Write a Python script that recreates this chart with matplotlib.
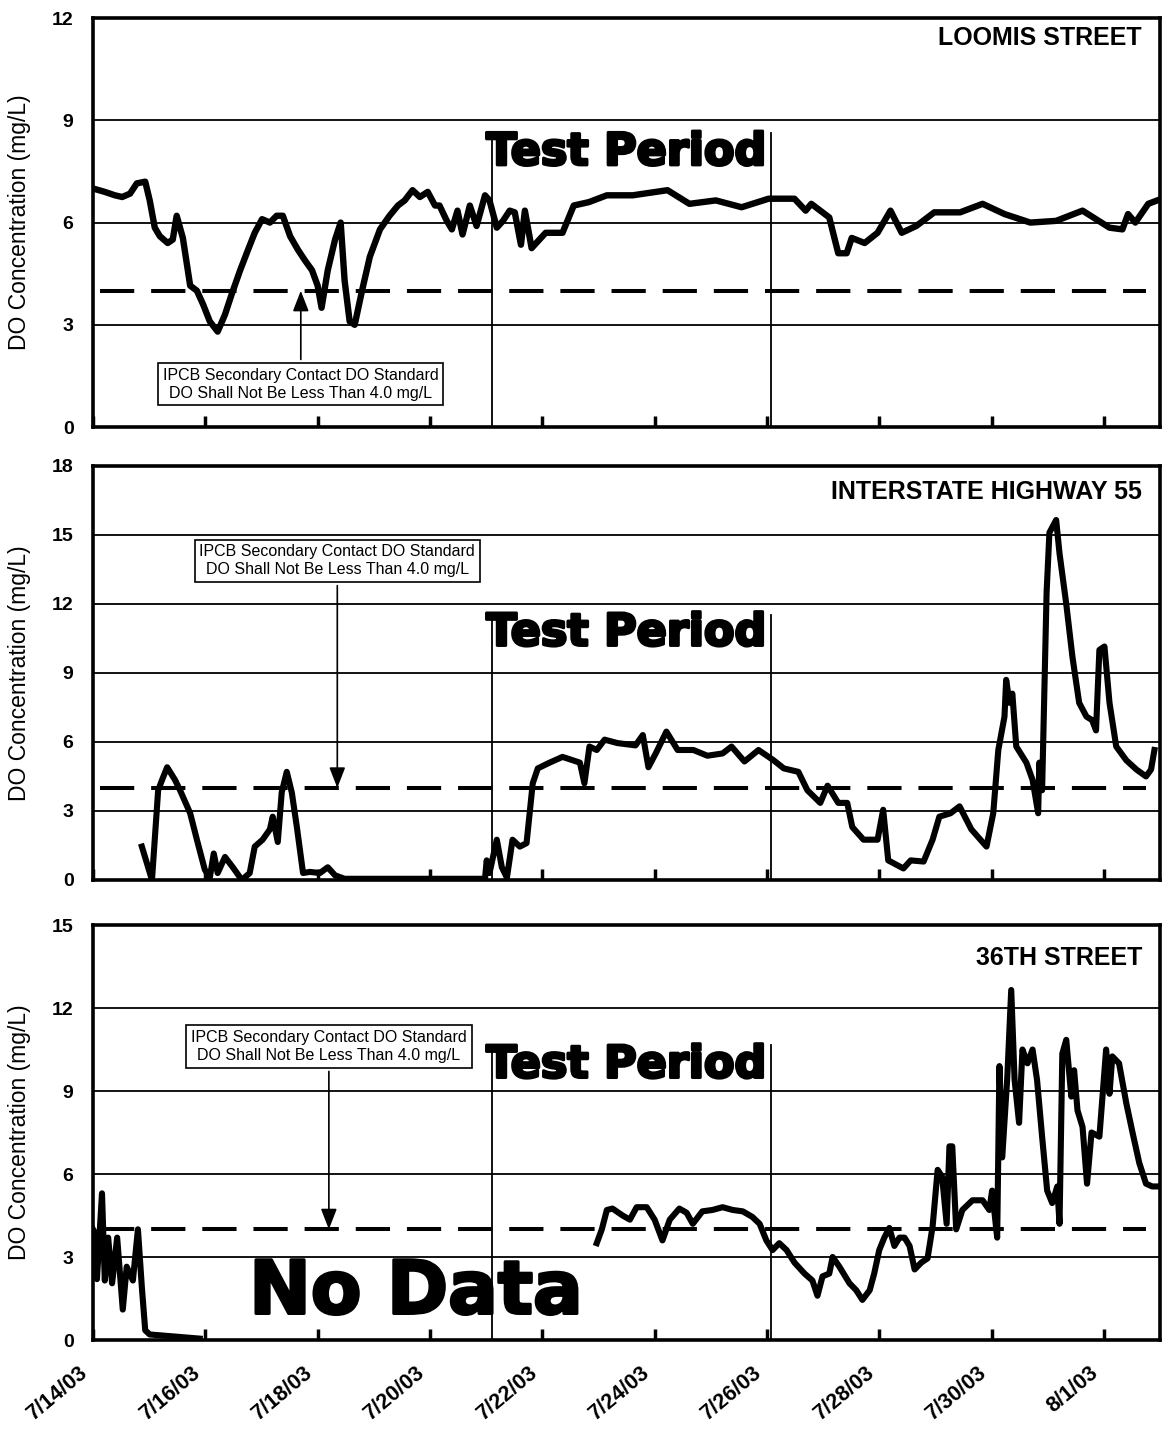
import pandas as pd
import matplotlib
matplotlib.use("Agg")
from matplotlib import pyplot as plt
from matplotlib import patheffects
from matplotlib.transforms import ScaledTranslation

# days since 7/14/03 00:00 and DO (mg/L)
loomis_day = [0.00, 0.21, 0.39, 0.52, 0.66, 0.78, 0.93, 1.01, 1.10, 1.19, 1.33, 1.42, 1.49, 1.60,
              1.73, 1.85, 1.96, 2.08, 2.22, 2.35, 2.47, 2.62, 2.76, 2.88, 3.01, 3.15, 3.27, 3.38,
              3.51, 3.65, 3.77, 3.90, 4.00, 4.07, 4.18, 4.31, 4.41, 4.48, 4.57, 4.66, 4.79, 4.93,
              5.11, 5.28, 5.43, 5.55, 5.69, 5.82, 5.96, 6.09, 6.17, 6.30, 6.39, 6.49, 6.58, 6.71,
              6.83, 6.98, 7.06, 7.19, 7.30, 7.42, 7.51, 7.62, 7.69, 7.81, 8.06, 8.36, 8.56, 8.83,
              9.15, 9.61, 10.23, 10.62, 11.09, 11.55, 12.03, 12.49, 12.69, 12.79, 13.11, 13.27,
              13.42, 13.51, 13.74, 13.97, 14.20, 14.40, 14.66, 14.98, 15.44, 15.84, 16.23, 16.69,
              17.15, 17.62, 18.10, 18.33, 18.43, 18.56, 18.79, 18.95]
loomis_do = [7.0, 6.9, 6.8, 6.75, 6.85, 7.15, 7.2, 6.65, 5.85, 5.6, 5.4, 5.5, 6.2, 5.55,
             4.15, 4.0, 3.6, 3.1, 2.8, 3.3, 3.9, 4.6, 5.2, 5.7, 6.1, 6.0, 6.2, 6.2,
             5.6, 5.2, 4.9, 4.6, 4.15, 3.5, 4.6, 5.5, 6.0, 4.3, 3.1, 3.0, 4.0, 5.0,
             5.8, 6.2, 6.5, 6.65, 6.95, 6.75, 6.9, 6.5, 6.5, 6.05, 5.8, 6.35, 5.65, 6.5,
             5.9, 6.8, 6.65, 5.85, 6.05, 6.35, 6.3, 5.35, 6.35, 5.25, 5.7, 5.7, 6.5, 6.6,
             6.8, 6.8, 6.95, 6.55, 6.65, 6.45, 6.7, 6.7, 6.35, 6.55, 6.15, 5.1,
             5.1, 5.55, 5.4, 5.7, 6.35, 5.7, 5.9, 6.3, 6.3, 6.55, 6.25, 6.0,
             6.05, 6.35, 5.85, 5.8, 6.25, 6.0, 6.55, 6.65]

i55_day = [0.87, 1.05, 1.16, 1.23, 1.32, 1.46, 1.55, 1.73, 1.85, 1.99, 2.08, 2.15, 2.22, 2.35,
           2.49, 2.65, 2.79, 2.88, 3.02, 3.15, 3.20, 3.29, 3.36, 3.45, 3.54, 3.63, 3.74, 3.86,
           4.04, 4.18, 4.31, 4.48, 6.98, 7.01, 7.06, 7.19, 7.28, 7.37, 7.47, 7.60, 7.72, 7.83,
           7.92, 8.13, 8.36, 8.67, 8.75, 8.84, 8.97, 9.11, 9.34, 9.66, 9.79, 9.89, 10.02, 10.21,
           10.41, 10.69, 10.94, 11.21, 11.37, 11.60, 11.85, 12.12, 12.30, 12.56, 12.72, 12.95,
           13.08, 13.27, 13.43, 13.52, 13.72, 13.97, 14.07, 14.16, 14.43, 14.56, 14.79, 14.95,
           15.07, 15.27, 15.43, 15.64, 15.91, 16.03, 16.12, 16.23, 16.26, 16.32, 16.37, 16.44,
           16.62, 16.73, 16.83, 16.85, 16.90, 16.98, 17.03, 17.15, 17.21, 17.33, 17.44, 17.56,
           17.69, 17.79, 17.86, 17.92, 18.01, 18.10, 18.22, 18.40, 18.58, 18.75, 18.84, 18.90]
i55_do = [1.45, 0.0, 3.9, 4.35, 4.9, 4.35, 3.9, 2.9, 1.75, 0.45, 0.1, 1.15, 0.3, 1.0,
          0.55, 0.0, 0.3, 1.45, 1.75, 2.2, 2.75, 1.65, 3.8, 4.7, 3.8, 2.3, 0.3, 0.35,
          0.3, 0.55, 0.2, 0.05, 0.05, 0.85, 0.3, 1.75, 0.55, 0.1, 1.75, 1.45, 1.6, 4.2,
          4.85, 5.1, 5.35, 5.1, 4.2, 5.8, 5.65, 6.1, 5.95, 5.85, 6.3, 4.9, 5.5, 6.45,
          5.65, 5.65, 5.4, 5.5, 5.8, 5.15, 5.65, 5.2, 4.85, 4.7, 3.9, 3.35,
          4.1, 3.35, 3.35, 2.3, 1.75, 1.75, 3.05, 0.85, 0.5, 0.85, 0.8, 1.75,
          2.75, 2.9, 3.2, 2.2, 1.45, 2.9, 5.65, 7.1, 8.7, 7.7, 8.1, 5.8,
          5.1, 4.35, 2.9, 5.1, 3.9, 12.5, 15.1, 15.65, 14.2, 12.0, 9.7, 7.7,
          7.1, 6.95, 6.5, 10.0, 10.15, 7.7, 5.8, 5.2, 4.8, 4.5, 4.8, 5.65]

st36_early_day = [0.00, 0.04, 0.07, 0.16, 0.21, 0.27, 0.34, 0.43, 0.53, 0.60, 0.71, 0.80, 0.87,
                  0.93, 1.01, 1.90]
st36_early_do = [4.0, 3.85, 2.2, 5.3, 2.15, 3.7, 2.05, 3.7, 1.1, 2.65, 2.15, 4.0, 1.9,
                 0.35, 0.2, 0.05]

st36_late_day = [8.97, 9.06, 9.15, 9.25, 9.43, 9.56, 9.68, 9.86, 10.00, 10.14, 10.27, 10.44, 10.57,
                 10.68, 10.85, 11.03, 11.21, 11.39, 11.57, 11.74, 11.87, 11.99, 12.10, 12.22,
                 12.35, 12.49, 12.67, 12.81, 12.90, 12.99, 13.11, 13.17, 13.29, 13.47, 13.59,
                 13.70, 13.83, 13.91, 14.00, 14.09, 14.18, 14.27, 14.36, 14.45, 14.54, 14.63,
                 14.75, 14.86, 14.95, 15.04, 15.12, 15.20, 15.25, 15.30, 15.37, 15.48, 15.66,
                 15.84, 15.96, 16.01, 16.10, 16.14, 16.19, 16.28, 16.35, 16.41, 16.49, 16.55,
                 16.64, 16.73, 16.81, 16.90, 16.99, 17.08, 17.17, 17.21, 17.26, 17.33, 17.42,
                 17.47, 17.53, 17.62, 17.70, 17.78, 17.92, 18.04, 18.10, 18.15, 18.27, 18.40,
                 18.51, 18.63, 18.75, 18.86, 18.95]
st36_late_do = [3.5, 4.0, 4.7, 4.75, 4.5, 4.35, 4.8, 4.8, 4.35, 3.6, 4.35, 4.75, 4.6,
                4.2, 4.65, 4.7, 4.8, 4.7, 4.65, 4.45, 4.2, 3.6, 3.25, 3.5,
                3.25, 2.8, 2.4, 2.15, 1.6, 2.3, 2.4, 3.0, 2.65, 2.05, 1.8,
                1.45, 1.8, 2.4, 3.25, 3.7, 4.05, 3.4, 3.7, 3.7, 3.4, 2.55,
                2.8, 2.95, 4.1, 6.15, 5.9, 4.2, 7.0, 7.0, 4.0, 4.7, 5.05,
                5.05, 4.7, 5.4, 3.7, 9.9, 6.6, 9.5, 12.65, 9.4, 7.85, 10.5,
                10.0, 10.5, 9.4, 7.35, 5.4, 4.95, 5.55, 4.2, 10.35, 10.85, 8.8,
                9.75, 8.3, 7.7, 5.65, 7.5, 7.35, 10.5, 8.9, 10.25, 10.0, 8.55,
                7.5, 6.4, 5.65, 5.55, 5.55]

stations = ["LOOMIS STREET", "INTERSTATE HIGHWAY 55", "36TH STREET"]
y_max = [12, 18, 15]
standard = 4.0
test_start, test_end = 7.1, 12.07   # days
box_text = "IPCB Secondary Contact DO Standard\nDO Shall Not Be Less Than 4.0 mg/L"

start = pd.Timestamp("2003-07-14")
end = pd.Timestamp("2003-08-02")


def to_date(days):
    return start + pd.to_timedelta(pd.Series(days, dtype=float), unit="D")


def one_date(d):
    return start + pd.Timedelta(days=d)


tick_dates = pd.date_range("2003-07-14", "2003-08-01", freq="2D")
tick_labels = [f"{d.month}/{d.day}/{d.strftime('%y')}" for d in tick_dates]

plt.rcParams["font.family"] = ["Liberation Sans", "DejaVu Sans"]

fig = plt.figure(figsize=(11.64, 14.35), dpi=100)
ax_top = fig.add_axes([0.0799, 0.7024, 0.9167, 0.2850])
ax_mid = fig.add_axes([0.0799, 0.3868, 0.9167, 0.2885])
ax_bot = fig.add_axes([0.0799, 0.0662, 0.9167, 0.2892])
axes = [ax_top, ax_mid, ax_bot]

ax_top.plot(to_date(loomis_day), loomis_do, color="black", lw=4.6, solid_joinstyle="round")
ax_mid.plot(to_date(i55_day), i55_do, color="black", lw=4.4, solid_joinstyle="round")
ax_bot.plot(to_date(st36_early_day), st36_early_do, color="black", lw=4.4, solid_joinstyle="round")
ax_bot.plot(to_date(st36_late_day), st36_late_do, color="black", lw=4.4, solid_joinstyle="round")

# heavy lettering, like Arial Black
heavy = [patheffects.withStroke(linewidth=2.2, foreground="black")]

# where the "Test Period" caption and the line tops sit in each panel
test_y = [8.06, 10.74, 9.94]
test_top = [8.62, 11.5, 10.65]
title_y = [0.951, 0.937, 0.920]
# box centre (day, value)
box_pos = [(3.7, 1.26), (4.35, 13.87), (4.2, 10.6)]

for i, ax in enumerate(axes):
    ax.set_xlim(start, end)
    ax.set_ylim(0, y_max[i])
    ax.set_yticks(range(0, y_max[i] + 1, 3))
    for y in range(3, y_max[i], 3):
        ax.axhline(y, color="black", lw=1.3, zorder=1)
    ax.set_xticks(tick_dates)
    ax.tick_params(axis="x", direction="in", length=8, width=2.5, color="black")
    ax.tick_params(axis="y", length=0, pad=14, labelsize=14)
    for lbl in ax.get_yticklabels():
        lbl.set_fontweight("bold")
    for s in ax.spines.values():
        s.set_linewidth(2.6)
    ax.set_ylabel("DO Concentration (mg/L)", fontsize=16.5)
    ax.yaxis.set_label_coords(-0.058, 0.5)

    # 4.0 mg/L standard
    ax.plot([one_date(0.13), one_date(18.75)], [standard, standard], color="black",
            lw=2.9, dashes=(8.5, 4.2), zorder=2)

    # test period
    for d in [test_start, test_end]:
        ax.plot([one_date(d), one_date(d)], [0, test_top[i]], color="black", lw=1.3, zorder=1)
    ax.text(one_date(9.5), test_y[i], "Test Period", ha="center", va="center",
            fontsize=32, fontweight="bold", family="DejaVu Sans", zorder=3,
            path_effects=heavy)

    ax.text(0.983, title_y[i], stations[i], transform=ax.transAxes, ha="right", va="center",
            fontsize=18, fontweight="bold")

    bx, by = box_pos[i]
    ax.annotate(box_text, xy=(one_date(bx), standard), xytext=(one_date(bx), by),
                ha="center", va="center", fontsize=11.5, linespacing=1.25,
                bbox=dict(boxstyle="square,pad=0.3", fc="white", ec="black", lw=1.2),
                arrowprops=dict(arrowstyle="-|>,head_length=0.9,head_width=0.35",
                                color="black", lw=1.2, mutation_scale=14, shrinkB=0))

ax_top.set_xticklabels([])
ax_mid.set_xticklabels([])
ax_bot.set_xticklabels(tick_labels, rotation=40, ha="right", va="center",
                       rotation_mode="anchor", fontsize=15.5, fontweight="bold")
ax_bot.tick_params(axis="x", pad=22)
shift = ScaledTranslation(-8 / 100, 0, fig.dpi_scale_trans)
for lbl in ax_bot.get_xticklabels():
    lbl.set_transform(lbl.get_transform() + shift)

ax_bot.text(one_date(5.75), 1.7, "No Data", ha="center", va="center",
            fontsize=53, fontweight="bold", family="DejaVu Sans", zorder=3,
            path_effects=heavy)

fig.savefig("out.png", dpi=100)
